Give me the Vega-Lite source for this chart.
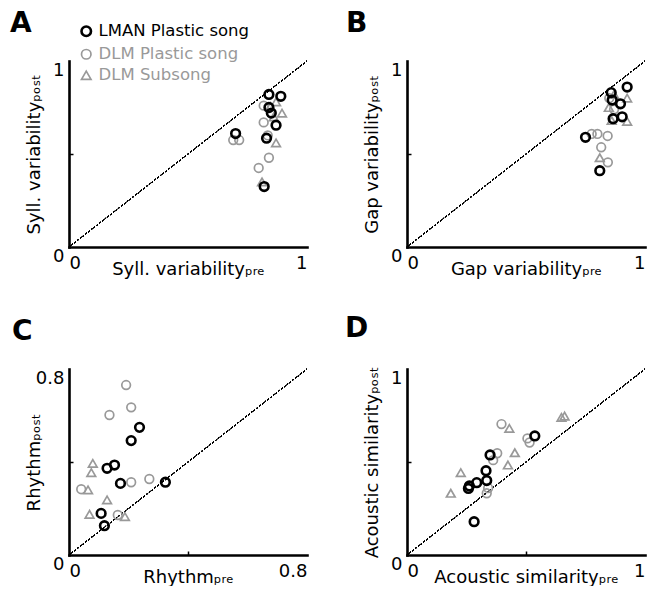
{
  "$schema": "https://vega.github.io/schema/vega-lite/v6.json",
  "background": "white",
  "padding": {"left": 10, "top": 9, "right": 5, "bottom": 0},
  "datasets": {
    "A": [
      {"g": "DLM Subsong", "pre": 0.846, "post": 0.755},
      {"g": "DLM Subsong", "pre": 0.895, "post": 0.72},
      {"g": "DLM Subsong", "pre": 0.87, "post": 0.56},
      {"g": "DLM Subsong", "pre": 0.811, "post": 0.35},
      {"g": "DLM Subsong", "pre": 0.87, "post": 0.78},
      {"g": "DLM Subsong", "pre": 0.86, "post": 0.7},
      {"g": "DLM Plastic song", "pre": 0.69, "post": 0.575},
      {"g": "DLM Plastic song", "pre": 0.715, "post": 0.575},
      {"g": "DLM Plastic song", "pre": 0.818, "post": 0.76},
      {"g": "DLM Plastic song", "pre": 0.818, "post": 0.67},
      {"g": "DLM Plastic song", "pre": 0.84, "post": 0.48},
      {"g": "DLM Plastic song", "pre": 0.797, "post": 0.425},
      {"g": "DLM Plastic song", "pre": 0.835, "post": 0.6},
      {"g": "LMAN Plastic song", "pre": 0.7, "post": 0.61},
      {"g": "LMAN Plastic song", "pre": 0.84, "post": 0.82},
      {"g": "LMAN Plastic song", "pre": 0.89, "post": 0.81},
      {"g": "LMAN Plastic song", "pre": 0.84, "post": 0.75},
      {"g": "LMAN Plastic song", "pre": 0.85, "post": 0.72},
      {"g": "LMAN Plastic song", "pre": 0.87, "post": 0.655},
      {"g": "LMAN Plastic song", "pre": 0.83, "post": 0.585},
      {"g": "LMAN Plastic song", "pre": 0.82, "post": 0.325}
    ],
    "B": [
      {"g": "DLM Subsong", "pre": 0.925, "post": 0.8},
      {"g": "DLM Subsong", "pre": 0.848, "post": 0.75},
      {"g": "DLM Subsong", "pre": 0.925, "post": 0.675},
      {"g": "DLM Subsong", "pre": 0.81, "post": 0.48},
      {"g": "DLM Subsong", "pre": 0.86, "post": 0.68},
      {"g": "DLM Subsong", "pre": 0.87, "post": 0.82},
      {"g": "DLM Plastic song", "pre": 0.776, "post": 0.608},
      {"g": "DLM Plastic song", "pre": 0.8, "post": 0.608},
      {"g": "DLM Plastic song", "pre": 0.843, "post": 0.597},
      {"g": "DLM Plastic song", "pre": 0.816, "post": 0.536},
      {"g": "DLM Plastic song", "pre": 0.844, "post": 0.455},
      {"g": "DLM Plastic song", "pre": 0.85, "post": 0.8},
      {"g": "DLM Plastic song", "pre": 0.87, "post": 0.74},
      {"g": "LMAN Plastic song", "pre": 0.925, "post": 0.86},
      {"g": "LMAN Plastic song", "pre": 0.858, "post": 0.83},
      {"g": "LMAN Plastic song", "pre": 0.862, "post": 0.79},
      {"g": "LMAN Plastic song", "pre": 0.897, "post": 0.77},
      {"g": "LMAN Plastic song", "pre": 0.866, "post": 0.69},
      {"g": "LMAN Plastic song", "pre": 0.904, "post": 0.7},
      {"g": "LMAN Plastic song", "pre": 0.75, "post": 0.59},
      {"g": "LMAN Plastic song", "pre": 0.81, "post": 0.41}
    ],
    "C": [
      {"g": "DLM Subsong", "pre": 0.08, "post": 0.394},
      {"g": "DLM Subsong", "pre": 0.075, "post": 0.354},
      {"g": "DLM Subsong", "pre": 0.064, "post": 0.28},
      {"g": "DLM Subsong", "pre": 0.128, "post": 0.237},
      {"g": "DLM Subsong", "pre": 0.069, "post": 0.175},
      {"g": "DLM Subsong", "pre": 0.188, "post": 0.165},
      {"g": "DLM Plastic song", "pre": 0.192, "post": 0.731},
      {"g": "DLM Plastic song", "pre": 0.209, "post": 0.635},
      {"g": "DLM Plastic song", "pre": 0.136, "post": 0.602},
      {"g": "DLM Plastic song", "pre": 0.209, "post": 0.313},
      {"g": "DLM Plastic song", "pre": 0.27, "post": 0.327},
      {"g": "DLM Plastic song", "pre": 0.041, "post": 0.283},
      {"g": "DLM Plastic song", "pre": 0.164, "post": 0.172},
      {"g": "LMAN Plastic song", "pre": 0.237, "post": 0.549},
      {"g": "LMAN Plastic song", "pre": 0.209, "post": 0.492},
      {"g": "LMAN Plastic song", "pre": 0.153, "post": 0.387},
      {"g": "LMAN Plastic song", "pre": 0.128, "post": 0.373},
      {"g": "LMAN Plastic song", "pre": 0.173, "post": 0.308},
      {"g": "LMAN Plastic song", "pre": 0.324, "post": 0.313},
      {"g": "LMAN Plastic song", "pre": 0.108, "post": 0.179},
      {"g": "LMAN Plastic song", "pre": 0.119, "post": 0.126}
    ],
    "D": [
      {"g": "DLM Subsong", "pre": 0.43, "post": 0.681},
      {"g": "DLM Subsong", "pre": 0.649, "post": 0.74},
      {"g": "DLM Subsong", "pre": 0.662, "post": 0.747},
      {"g": "DLM Subsong", "pre": 0.453, "post": 0.55},
      {"g": "DLM Subsong", "pre": 0.424, "post": 0.484},
      {"g": "DLM Subsong", "pre": 0.226, "post": 0.443},
      {"g": "DLM Subsong", "pre": 0.184, "post": 0.332},
      {"g": "DLM Plastic song", "pre": 0.397, "post": 0.704},
      {"g": "DLM Plastic song", "pre": 0.506, "post": 0.627},
      {"g": "DLM Plastic song", "pre": 0.515, "post": 0.605},
      {"g": "DLM Plastic song", "pre": 0.379, "post": 0.547},
      {"g": "DLM Plastic song", "pre": 0.362, "post": 0.51},
      {"g": "DLM Plastic song", "pre": 0.341, "post": 0.36},
      {"g": "DLM Plastic song", "pre": 0.335, "post": 0.332},
      {"g": "LMAN Plastic song", "pre": 0.537, "post": 0.64},
      {"g": "LMAN Plastic song", "pre": 0.349, "post": 0.538},
      {"g": "LMAN Plastic song", "pre": 0.332, "post": 0.453},
      {"g": "LMAN Plastic song", "pre": 0.335, "post": 0.4},
      {"g": "LMAN Plastic song", "pre": 0.293, "post": 0.389},
      {"g": "LMAN Plastic song", "pre": 0.262, "post": 0.371},
      {"g": "LMAN Plastic song", "pre": 0.258, "post": 0.358},
      {"g": "LMAN Plastic song", "pre": 0.282, "post": 0.179}
    ]
  },
  "columns": 2,
  "spacing": {"row": 122, "column": 100},
  "bounds": "flush",
  "align": "all",
  "resolve": {"scale": {"color": "shared", "shape": "shared", "strokeWidth": "shared"}},
  "concat": [
    {
      "width": 238, "height": 186,
      "title": {"text": "A", "dx": -59},
      "data": {"name": "A"},
      "layer": [
        {
          "mark": {"type": "rule", "strokeDash": [1.5, 2], "strokeWidth": 1, "color": "black"},
          "encoding": {
            "x": {"datum": 0, "type": "quantitative", "scale": {"domain": [0, 1], "nice": false},
                  "axis": {"title": "Syll. variabilityₚᵣₑ", "values": [0, 0.5, 1], "labelExpr": "datum.value == 0.5 ? '' : '' + datum.value", "tickOpacity": 0}},
            "y": {"datum": 0, "type": "quantitative", "scale": {"domain": [0, 1], "nice": false},
                  "axis": {"title": "Syll. variabilityₚₒₛₜ", "values": [0, 0.5, 1], "labelExpr": "datum.value == 0.5 ? '' : '' + datum.value", "tickOpacity": {"condition": {"test": "datum.value == 0.5", "value": 1}, "value": 0}}},
            "x2": {"datum": 1}, "y2": {"datum": 1}
          }
        },
        {
          "mark": {"type": "point", "filled": false, "size": 75, "opacity": 1},
          "encoding": {
            "x": {"field": "pre", "type": "quantitative"},
            "y": {"field": "post", "type": "quantitative"},
            "color": {"field": "g", "type": "nominal", "scale": {"domain": ["LMAN Plastic song", "DLM Plastic song", "DLM Subsong"], "range": ["#000000", "#999999", "#999999"]},
                      "legend": {"title": null, "labelColor": {"expr": "datum.value === 'LMAN Plastic song' ? '#000000' : '#999999'"}}},
            "shape": {"field": "g", "type": "nominal", "scale": {"domain": ["LMAN Plastic song", "DLM Plastic song", "DLM Subsong"], "range": ["circle", "circle", "triangle-up"]},
                      "legend": {"title": null, "labelColor": {"expr": "datum.value === 'LMAN Plastic song' ? '#000000' : '#999999'"}}},
            "strokeWidth": {"field": "g", "type": "nominal", "scale": {"type": "ordinal", "domain": ["LMAN Plastic song", "DLM Plastic song", "DLM Subsong"], "range": [2.6, 1.7, 1.7]},
                      "legend": {"title": null, "labelColor": {"expr": "datum.value === 'LMAN Plastic song' ? '#000000' : '#999999'"}}}
          }
        }
      ]
    },
    {
      "width": 238, "height": 186,
      "title": {"text": "B", "dx": -61},
      "data": {"name": "B"},
      "layer": [
        {
          "mark": {"type": "rule", "strokeDash": [1.5, 2], "strokeWidth": 1, "color": "black"},
          "encoding": {
            "x": {"datum": 0, "type": "quantitative", "scale": {"domain": [0, 1], "nice": false},
                  "axis": {"title": "Gap variabilityₚᵣₑ", "values": [0, 0.5, 1], "labelExpr": "datum.value == 0.5 ? '' : '' + datum.value", "tickOpacity": 0}},
            "y": {"datum": 0, "type": "quantitative", "scale": {"domain": [0, 1], "nice": false},
                  "axis": {"title": "Gap variabilityₚₒₛₜ", "values": [0, 0.5, 1], "labelExpr": "datum.value == 0.5 ? '' : '' + datum.value", "tickOpacity": {"condition": {"test": "datum.value == 0.5", "value": 1}, "value": 0}}},
            "x2": {"datum": 1}, "y2": {"datum": 1}
          }
        },
        {
          "mark": {"type": "point", "filled": false, "size": 75, "opacity": 1},
          "encoding": {
            "x": {"field": "pre", "type": "quantitative"},
            "y": {"field": "post", "type": "quantitative"},
            "color": {"field": "g", "type": "nominal", "scale": {"domain": ["LMAN Plastic song", "DLM Plastic song", "DLM Subsong"], "range": ["#000000", "#999999", "#999999"]}, "legend": {"title": null}},
            "shape": {"field": "g", "type": "nominal", "scale": {"domain": ["LMAN Plastic song", "DLM Plastic song", "DLM Subsong"], "range": ["circle", "circle", "triangle-up"]}, "legend": {"title": null}},
            "strokeWidth": {"field": "g", "type": "nominal", "scale": {"type": "ordinal", "domain": ["LMAN Plastic song", "DLM Plastic song", "DLM Subsong"], "range": [2.6, 1.7, 1.7]}, "legend": {"title": null}}
          }
        }
      ]
    },
    {
      "width": 238, "height": 186,
      "title": {"text": "C", "dx": -57},
      "data": {"name": "C"},
      "layer": [
        {
          "mark": {"type": "rule", "strokeDash": [1.5, 2], "strokeWidth": 1, "color": "black"},
          "encoding": {
            "x": {"datum": 0, "type": "quantitative", "scale": {"domain": [0, 0.8], "nice": false},
                  "axis": {"title": "Rhythmₚᵣₑ", "values": [0, 0.4, 0.8], "labelExpr": "datum.value == 0.4 ? '' : '' + datum.value", "tickOpacity": {"condition": {"test": "datum.value == 0.4", "value": 1}, "value": 0}}},
            "y": {"datum": 0, "type": "quantitative", "scale": {"domain": [0, 0.8], "nice": false},
                  "axis": {"title": "Rhythmₚₒₛₜ", "values": [0, 0.4, 0.8], "labelExpr": "datum.value == 0.4 ? '' : '' + datum.value", "tickOpacity": {"condition": {"test": "datum.value == 0.4", "value": 1}, "value": 0}}},
            "x2": {"datum": 0.8}, "y2": {"datum": 0.8}
          }
        },
        {
          "mark": {"type": "point", "filled": false, "size": 75, "opacity": 1},
          "encoding": {
            "x": {"field": "pre", "type": "quantitative"},
            "y": {"field": "post", "type": "quantitative"},
            "color": {"field": "g", "type": "nominal", "scale": {"domain": ["LMAN Plastic song", "DLM Plastic song", "DLM Subsong"], "range": ["#000000", "#999999", "#999999"]}, "legend": {"title": null}},
            "shape": {"field": "g", "type": "nominal", "scale": {"domain": ["LMAN Plastic song", "DLM Plastic song", "DLM Subsong"], "range": ["circle", "circle", "triangle-up"]}, "legend": {"title": null}},
            "strokeWidth": {"field": "g", "type": "nominal", "scale": {"type": "ordinal", "domain": ["LMAN Plastic song", "DLM Plastic song", "DLM Subsong"], "range": [2.6, 1.7, 1.7]}, "legend": {"title": null}}
          }
        }
      ]
    },
    {
      "width": 238, "height": 186,
      "title": {"text": "D", "dx": -62},
      "data": {"name": "D"},
      "layer": [
        {
          "mark": {"type": "rule", "strokeDash": [1.5, 2], "strokeWidth": 1, "color": "black"},
          "encoding": {
            "x": {"datum": 0, "type": "quantitative", "scale": {"domain": [0, 1], "nice": false},
                  "axis": {"title": "Acoustic similarityₚᵣₑ", "values": [0, 0.5, 1], "labelExpr": "datum.value == 0.5 ? '' : '' + datum.value", "tickOpacity": {"condition": {"test": "datum.value == 0.5", "value": 1}, "value": 0}}},
            "y": {"datum": 0, "type": "quantitative", "scale": {"domain": [0, 1], "nice": false},
                  "axis": {"title": "Acoustic similarityₚₒₛₜ", "values": [0, 0.5, 1], "labelExpr": "datum.value == 0.5 ? '' : '' + datum.value", "tickOpacity": {"condition": {"test": "datum.value == 0.5", "value": 1}, "value": 0}}},
            "x2": {"datum": 1}, "y2": {"datum": 1}
          }
        },
        {
          "mark": {"type": "point", "filled": false, "size": 75, "opacity": 1},
          "encoding": {
            "x": {"field": "pre", "type": "quantitative"},
            "y": {"field": "post", "type": "quantitative"},
            "color": {"field": "g", "type": "nominal", "scale": {"domain": ["LMAN Plastic song", "DLM Plastic song", "DLM Subsong"], "range": ["#000000", "#999999", "#999999"]}, "legend": {"title": null}},
            "shape": {"field": "g", "type": "nominal", "scale": {"domain": ["LMAN Plastic song", "DLM Plastic song", "DLM Subsong"], "range": ["circle", "circle", "triangle-up"]}, "legend": {"title": null}},
            "strokeWidth": {"field": "g", "type": "nominal", "scale": {"type": "ordinal", "domain": ["LMAN Plastic song", "DLM Plastic song", "DLM Subsong"], "range": [2.6, 1.7, 1.7]}, "legend": {"title": null}}
          }
        }
      ]
    }
  ],
  "config": {
    "view": {"stroke": null},
    "font": "DejaVu Sans",
    "axis": {
      "domainColor": "black", "domainWidth": 2.6, "domainCap": "square",
      "tickColor": "black", "tickWidth": 1.5, "tickSize": -4,
      "labelFont": "DejaVu Sans", "labelFontSize": 18, "labelColor": "black",
      "titleFont": "DejaVu Sans", "titleFontSize": 18, "titleFontWeight": "normal", "titleColor": "black",
      "grid": false
    },
    "axisX": {"labelFlush": true, "labelPadding": 11, "titleY": 27, "titleBaseline": "alphabetic"},
    "axisY": {"labelBaseline": "top", "labelPadding": 9, "titleX": -30, "titleY": 93, "titleBaseline": "alphabetic", "titleAngle": -90},
    "title": {"font": "DejaVu Sans", "fontSize": 28, "fontWeight": "bold", "anchor": "start", "frame": "group", "baseline": "alphabetic", "offset": 23, "color": "black"},
    "legend": {
      "orient": "none", "legendX": 9, "legendY": -38, "padding": 0,
      "labelFont": "DejaVu Sans", "labelFontSize": 16.5, "labelOffset": 4,
      "symbolSize": 90, "rowPadding": 4
    }
  }
}
